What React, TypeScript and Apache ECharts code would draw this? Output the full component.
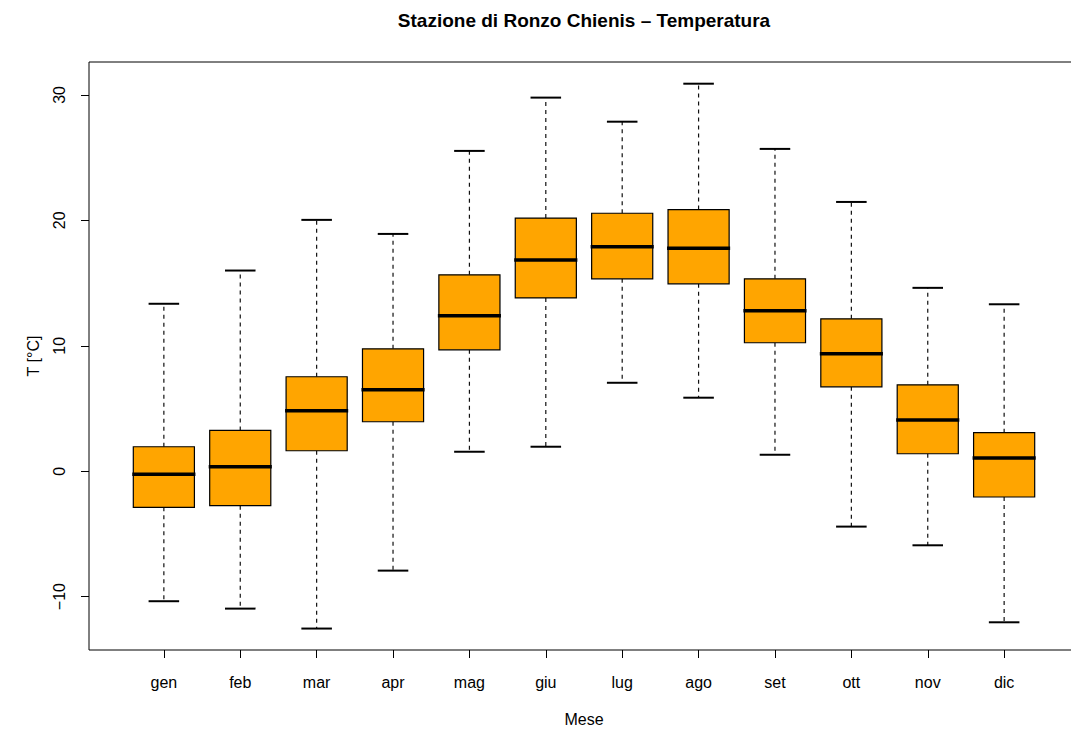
import React, { useEffect, useRef } from "react";
import * as echarts from "echarts";

const months = ["gen", "feb", "mar", "apr", "mag", "giu", "lug", "ago", "set", "ott", "nov", "dic"];
const whiskerLow = [-10.37, -10.96, -12.55, -7.93, 1.55, 1.95, 7.05, 5.86, 1.31, -4.42, -5.91, -12.05];
const quart1 = [-2.88, -2.75, 1.63, 3.94, 9.68, 13.82, 15.34, 14.94, 10.24, 6.73, 1.39, -2.06];
const medians = [-0.25, 0.36, 4.82, 6.49, 12.39, 16.85, 17.89, 17.78, 12.79, 9.36, 4.08, 1.05];
const quart3 = [1.95, 3.25, 7.53, 9.76, 15.66, 20.18, 20.57, 20.86, 15.34, 12.15, 6.89, 3.07];
const whiskerHigh = [13.35, 16.0, 20.04, 18.92, 25.54, 29.79, 27.87, 30.9, 25.7, 21.47, 14.62, 13.31];
const yTicks = [-10, 0, 10, 20, 30];
const xTicks = months.map((_, i) => i + 1);

const FONT = "'Liberation Sans', Arial, Helvetica, sans-serif";

export default function App() {
  const ref = useRef<HTMLDivElement>(null);
  useEffect(() => {
    if (!ref.current) return;
    const chart = echarts.init(ref.current, null, { renderer: "svg" });
    const data = months.map((_, i) => [i + 1, whiskerLow[i], quart1[i], medians[i], quart3[i], whiskerHigh[i]]);
    chart.setOption({
      animation: false,
      backgroundColor: "#ffffff",
      grid: {
        left: 89,
        top: 62,
        width: 990,
        height: 588,
        show: true,
        borderColor: "#000",
        borderWidth: 1,
        backgroundColor: "transparent",
        containLabel: false,
        outerBoundsMode: "none",
      },
      xAxis: {
        type: "value",
        min: 0.02,
        max: 12.98,
        axisLine: { show: false, onZero: false },
        splitLine: { show: false },
        axisTick: { show: true, length: 8, customValues: xTicks, lineStyle: { color: "#000", width: 1 } },
        axisLabel: {
          customValues: xTicks,
          formatter: (v: number) => months[Math.round(v) - 1] ?? "",
          margin: 24,
          color: "#000",
          fontFamily: FONT,
          fontSize: 16,
        },
      },
      yAxis: {
        type: "value",
        min: -14.26,
        max: 32.63,
        axisLine: { show: false, onZero: false },
        splitLine: { show: false },
        axisTick: { show: true, length: 8, customValues: yTicks, lineStyle: { color: "#000", width: 1 } },
        axisLabel: {
          customValues: yTicks,
          rotate: 90,
          margin: 22,
          color: "#000",
          fontFamily: FONT,
          fontSize: 16,
          formatter: (v: number) => (v < 0 ? "\u2212" + Math.abs(v) : String(v)),
        },
      },
      graphic: [
        {
          type: "text",
          x: 584,
          y: 20,
          style: {
            text: "Stazione di Ronzo Chienis \u2013 Temperatura",
            fill: "#000",
            font: `bold 19px ${FONT}`,
            align: "center",
            verticalAlign: "middle",
          },
        },
        {
          type: "text",
          x: 584,
          y: 719,
          style: { text: "Mese", fill: "#000", font: `16px ${FONT}`, align: "center", verticalAlign: "middle" },
        },
        {
          type: "text",
          x: 33,
          y: 356,
          rotation: Math.PI / 2,
          style: { text: "T [°C]", fill: "#000", font: `16px ${FONT}`, align: "center", verticalAlign: "middle" },
        },
      ],
      series: [
        {
          type: "custom",
          data,
          clip: false,
          encode: { x: 0, y: [1, 2, 3, 4, 5] },
          renderItem: (params: any, api: any) => {
            const xv = api.value(0);
            const cx = api.coord([xv, 0])[0];
            const yLow = api.coord([xv, api.value(1)])[1];
            const yQ1 = api.coord([xv, api.value(2)])[1];
            const yMed = api.coord([xv, api.value(3)])[1];
            const yQ3 = api.coord([xv, api.value(4)])[1];
            const yHigh = api.coord([xv, api.value(5)])[1];
            const halfW = api.size([0.4, 0])[0];
            const capHalf = api.size([0.2, 0])[0];
            const dash = { stroke: "#111", lineWidth: 1.2, lineDash: [4, 4] };
            const cap = { stroke: "#000", lineWidth: 2 };
            return {
              type: "group",
              children: [
                { type: "line", shape: { x1: cx, y1: yQ3, x2: cx, y2: yHigh }, style: dash },
                { type: "line", shape: { x1: cx, y1: yQ1, x2: cx, y2: yLow }, style: dash },
                { type: "line", shape: { x1: cx - capHalf, y1: yHigh, x2: cx + capHalf, y2: yHigh }, style: cap },
                { type: "line", shape: { x1: cx - capHalf, y1: yLow, x2: cx + capHalf, y2: yLow }, style: cap },
                {
                  type: "rect",
                  shape: { x: cx - halfW, y: yQ3, width: 2 * halfW, height: yQ1 - yQ3 },
                  style: { fill: "#FFA500", stroke: "#000", lineWidth: 1.2 },
                },
                {
                  type: "line",
                  shape: { x1: cx - halfW - 1, y1: yMed, x2: cx + halfW + 1, y2: yMed },
                  style: { stroke: "#000", lineWidth: 3.5 },
                },
              ],
            };
          },
        },
      ],
    });
    return () => chart.dispose();
  }, []);
  return (
    <div
      ref={ref}
      style={{ position: "absolute", left: 0, top: 0, width: 1071, height: 731, background: "#fff" }}
    />
  );
}
